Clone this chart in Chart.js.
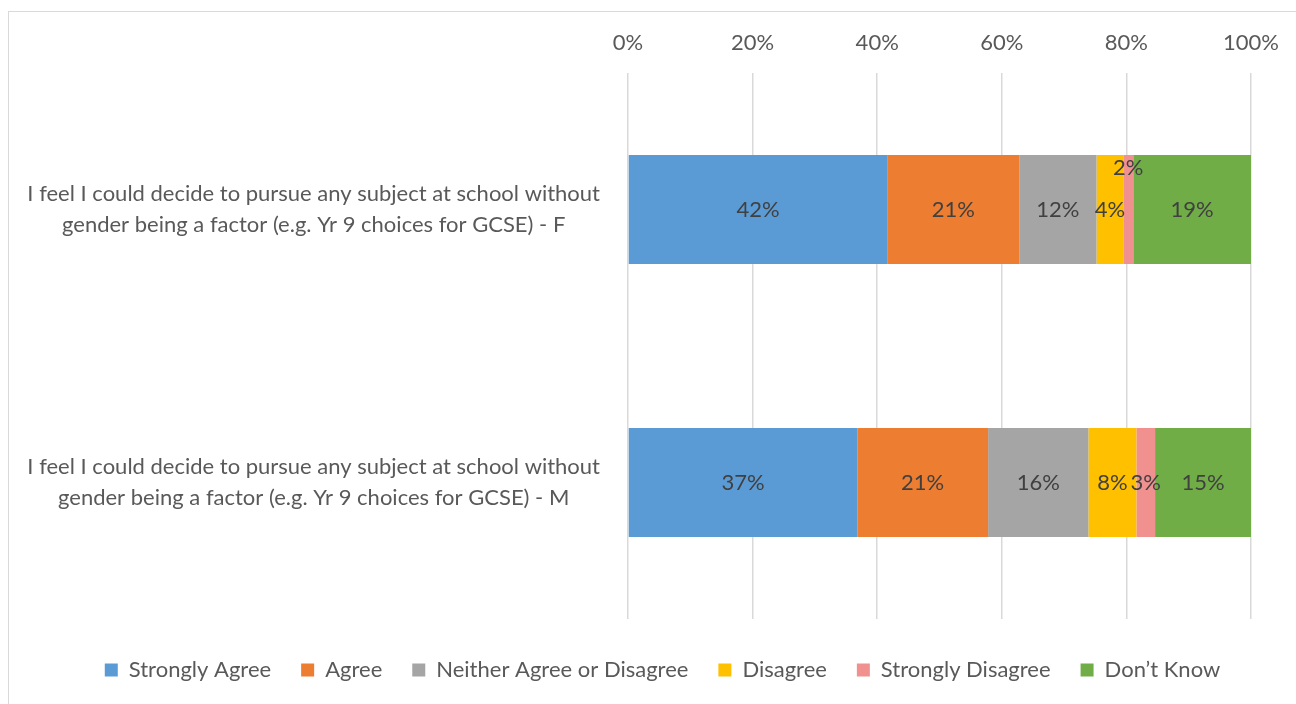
<!DOCTYPE html>
<html>
<head>
<meta charset="utf-8">
<script src="https://cdn.jsdelivr.net/npm/chart.js@4.4.1/dist/chart.umd.min.js"></script>
<style>
  html, body { margin: 0; padding: 0; background: #fff; overflow: hidden; }
  #frame { position: absolute; left: 8px; top: 11px; width: 1400px; height: 800px; border: 1.5px solid #d9d9d9; }
  #wrap { position: absolute; left: 0; top: 0; width: 1296px; height: 704px; }
</style>
</head>
<body>
<div id="frame"></div>
<div id="wrap"><canvas id="chart"></canvas></div>
<script>
// Survey data (percent)
const categories = [
  ['I feel I could decide to pursue any subject at school without', 'gender being a factor (e.g. Yr 9 choices for GCSE) - F'],
  ['I feel I could decide to pursue any subject at school without', 'gender being a factor (e.g. Yr 9 choices for GCSE) - M']
];
const seriesNames = ['Strongly Agree', 'Agree', 'Neither Agree or Disagree', 'Disagree', 'Strongly Disagree', 'Don\u2019t Know'];
const stronglyAgree = [41.6, 36.8];
const agree = [21.2, 21.0];
const neither = [12.4, 16.1];
const disagree = [4.3, 7.7];
const stronglyDisagree = [1.6, 3.0];
const dontKnow = [18.9, 15.4];
const xTicks = [0, 20, 40, 60, 80, 100];

const colors = ['#5B9BD5', '#ED7D31', '#A5A5A5', '#FFC000', '#F0908F', '#70AD47'];
const FONT = 'Lato, Carlito, Calibri, sans-serif';
const FS = 22;

const allSeries = [stronglyAgree, agree, neither, disagree, stronglyDisagree, dontKnow];

// draws the % labels inside the segments
const barLabels = {
  id: 'barLabels',
  afterLayout(chart) {
    // legend sits a bit right of the canvas centre in the original
    if (chart.legend) chart.legend.left += 45;
  },
  afterDatasetsDraw(chart) {
    const ctx = chart.ctx;
    ctx.save();
    ctx.font = FS + 'px ' + FONT;
    ctx.fillStyle = '#404040';
    ctx.textAlign = 'center';
    ctx.textBaseline = 'middle';
    chart.data.datasets.forEach((ds, i) => {
      const meta = chart.getDatasetMeta(i);
      meta.data.forEach((bar, j) => {
        const txt = Math.round(ds.data[j]) + '%';
        const w = Math.abs(bar.x - bar.base);
        const tw = ctx.measureText(txt).width;
        const cx = (bar.x + bar.base) / 2;
        let cy = bar.y;
        // too narrow: push the label up to the top of the bar
        if (w < tw * 0.5) cy = bar.y - bar.height / 2 + 13;
        ctx.fillText(txt, cx, cy);
      });
    });
    ctx.restore();
  }
};

new Chart(document.getElementById('chart'), {
  type: 'bar',
  data: {
    labels: categories,
    datasets: allSeries.map((d, i) => ({
      label: seriesNames[i],
      data: d,
      backgroundColor: colors[i],
      borderWidth: 0,
      categoryPercentage: 0.4,
      barPercentage: 1
    }))
  },
  options: {
    indexAxis: 'y',
    responsive: true,
    maintainAspectRatio: false,
    animation: false,
    layout: { padding: { left: 29, right: 45, top: 30, bottom: 13 } },
    plugins: {
      legend: {
        position: 'bottom',
        // empty title used only as spacer above the items
        title: { display: true, text: '', font: { size: 1, lineHeight: 1 }, padding: { top: 9, bottom: 0 } },
        labels: {
          boxWidth: 13,
          boxHeight: 13,
          padding: 30,
          color: '#595959',
          font: { family: FONT, size: FS }
        }
      },
      tooltip: { enabled: false }
    },
    scales: {
      x: {
        position: 'top',
        stacked: true,
        min: 0,
        max: 100,
        afterBuildTicks: s => { s.ticks = xTicks.map(v => ({ value: v })); },
        afterFit: s => { s.height = 43; },
        grid: { color: '#d9d9d9', lineWidth: 1.5, drawTicks: false },
        border: { display: false },
        ticks: {
          padding: 17,
          color: '#595959',
          font: { family: FONT, size: FS },
          callback: v => v + '%'
        }
      },
      y: {
        stacked: true,
        afterFit: s => { s.width = 599; s.paddingTop = 0; s.paddingBottom = 0; },
        grid: { display: false, drawTicks: false },
        border: { display: false },
        ticks: {
          crossAlign: 'center',
          padding: 28,
          color: '#595959',
          font: { family: FONT, size: FS, lineHeight: 1.4 }
        }
      }
    }
  },
  plugins: [barLabels]
});
</script>
</body>
</html>
